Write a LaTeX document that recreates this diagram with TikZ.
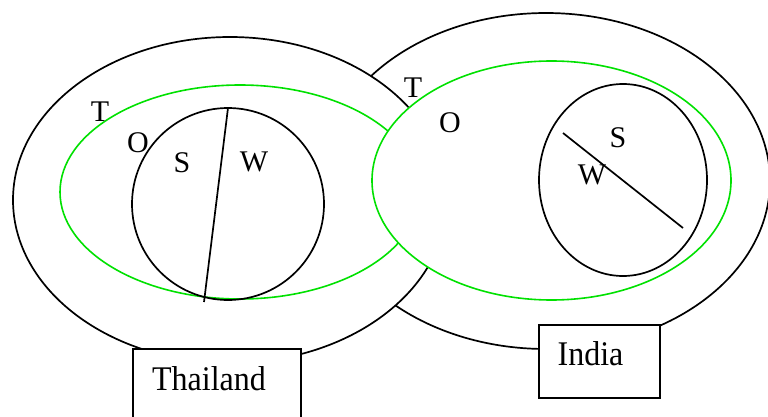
\documentclass[tikz,border=0pt]{standalone}
\usepackage{fontspec}
\setmainfont{Liberation Serif}
\definecolor{ringgreen}{RGB}{0,225,0}
\newcommand{\tallword}[1]{\scalebox{1}[1.08]{#1}}
\begin{document}
\begin{tikzpicture}[x=1pt,y=-1pt,
  outline/.style={draw=black,line width=1.7pt,fill=white},
  ring/.style={draw=ringgreen,line width=1.6pt},
  ringfill/.style={draw=ringgreen,line width=1.6pt,fill=white},
  divider/.style={draw=black,line width=1.7pt},
  countrybox/.style={draw=black,line width=1.7pt,fill=white,rectangle,inner sep=0pt},
  letter/.style={inner sep=0pt,font=\fontsize{30}{36}\selectfont},
  country/.style={inner sep=0pt,anchor=base,font=\fontsize{32}{38}\selectfont}]
\useasboundingbox (0,0) rectangle (768,417);

% India: outer region
\path[outline] (546,181) ellipse [x radius=224pt, y radius=168pt];
% Thailand: outer region, ring and inner circle
\path[outline] (230,200) ellipse [x radius=217pt, y radius=163pt];
\path[ring] (240,192) ellipse [x radius=180pt, y radius=107pt];
\path[divider] (228,204) ellipse [x radius=96pt, y radius=96pt];
\coordinate (ltop) at (228,108);
\coordinate (lbot) at (204,302);
\draw[divider] (ltop) -- (lbot);

% India: ring and inner circle
\path[ringfill] (551.5,180.5) ellipse [x radius=179.5pt, y radius=119.5pt];
\path[divider] (623,180) ellipse [x radius=84pt, y radius=96pt];
\coordinate (rtop) at (563,133);
\coordinate (rbot) at (683,228);
\draw[divider] (rtop) -- (rbot);

% country boxes
\node[countrybox,minimum width=168pt,minimum height=90pt,anchor=north west] (thaibox) at (132,348) {};
\node[countrybox,minimum width=121pt,minimum height=73pt,anchor=north west] (indiabox) at (538,324) {};
\node[country] (thai) at (209,390) {\tallword{Thailand}};
\node[country] (india) at (590.5,365) {\tallword{India}};

% region letters
\node[letter] (tl) at (100,112) {T};
\node[letter] (ol) at (138,143) {O};
\node[letter] (sl) at (182,163) {S};
\node[letter] (wl) at (254,162) {W};
\node[letter] (tr) at (413,88) {T};
\node[letter] (or) at (450,123) {O};
\node[letter] (sr) at (618,138) {S};
\node[letter] (wr) at (592,175) {W};
\end{tikzpicture}
\end{document}
